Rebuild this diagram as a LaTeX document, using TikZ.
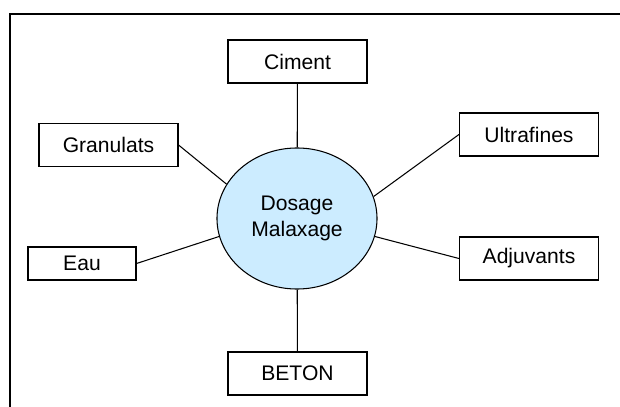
\documentclass[tikz,border=0pt]{standalone}
\usepackage{fontspec}
\setmainfont{Liberation Sans}
\usetikzlibrary{shapes.geometric}
\definecolor{mixblue}{HTML}{CCECFF}

\begin{document}
\begin{tikzpicture}[x=0.025cm,y=-0.025cm,
    box/.style={draw,line width=0.75pt,minimum width=3.475cm,minimum height=1.075cm,inner sep=0pt,font=\fontsize{15}{18}\selectfont},
    link/.style={line width=0.75pt}]

    \useasboundingbox (0,0) rectangle (620,407);
    \clip (0,0) rectangle (620,407);

    % outer frame
    \draw[line width=1.1pt](10,14) rectangle (640,430);

    % main graph
    % nodes
    \node[ellipse,draw,fill=mixblue,line width=0.75pt,minimum width=4cm,minimum height=3.525cm,inner sep=0pt,
          align=center,font=\fontsize{15}{18}\selectfont] (mix) at (297,218.5) {Dosage\\Malaxage};
    \node[box] (ciment) at (297.5,61.5) {Ciment};
    \node[box] (granulats) at (108.5,145) {Granulats};
    \node[box] (ultrafines) at (529,134.5) {Ultrafines};
    \node[box,minimum width=2.7cm,minimum height=0.825cm] (eau) at (82,263.5) {Eau};
    \node[box] (adjuvants) at (529,258.5) {Adjuvants};
    \node[box] (beton) at (297.5,373.5) {BETON};

    % paths
    \draw[link](ciment) to (mix); % Ciment -> mix
    \draw[link](granulats.east) to (mix.154); % Granulats -> mix
    \draw[link](ultrafines.west) to (mix.16); % Ultrafines -> mix
    \draw[link](eau.east) to (mix.193); % Eau -> mix
    \draw[link](adjuvants.west) to (mix.347); % Adjuvants -> mix
    \draw[link](mix) to (beton); % mix -> BETON

\end{tikzpicture}
\end{document}
